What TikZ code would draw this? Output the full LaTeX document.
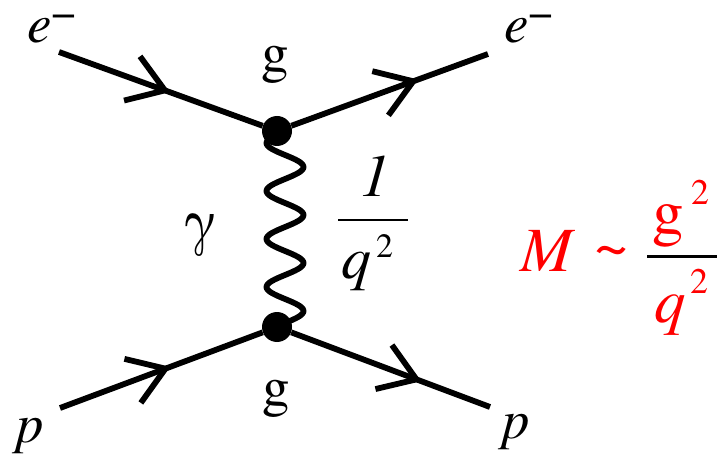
\documentclass[tikz,border=0pt]{standalone}
\usepackage{fontspec}
\IfFontExistsTF{texgyretermes-regular.otf}{%
  \setmainfont{texgyretermes}[Extension=.otf, UprightFont=*-regular, ItalicFont=*-italic, BoldFont=*-bold, BoldItalicFont=*-bolditalic]}{%
  \setmainfont{Latin Modern Roman}}
\usetikzlibrary{decorations.markings}
\begin{document}
\begin{tikzpicture}[x=1pt,y=-1pt,
  fermion/.style={line width=5.8pt, postaction={decorate},
    decoration={markings, mark=at position #1 with {\draw[line width=5.8pt, line join=miter, line cap=butt] (-35pt,23.5pt) -- (0pt,0pt) -- (-35pt,-23.5pt);}}},
  vtx/.style={circle, fill=black, minimum size=30pt, inner sep=0pt},
  lbl/.style={inner sep=0pt, font=\fontsize{55}{60}\selectfont},
  frc/.style={inner sep=0pt, font=\fontsize{60}{64}\selectfont},
  sup/.style={inner sep=0pt, font=\fontsize{34}{38}\selectfont},
  red/.style={inner sep=0pt, text=red, font=\fontsize{63}{68}\selectfont},
  redsup/.style={inner sep=0pt, text=red, font=\fontsize{36}{40}\selectfont},
  bar/.style={line width=2.7pt}
]
\useasboundingbox (0,0) rectangle (717,462);
% photon
\draw[line width=5.8pt] plot[variable=\t, domain=131:327, samples=220] ({285+18.5*cos(7.5*(\t-167))}, \t);
% vertices
\node[vtx] (v1) at (277,131) {};
\node[vtx] (v2) at (277,327) {};
% external points
\coordinate (a) at (59,52);
\coordinate (b) at (488,54);
\coordinate (c) at (60,408);
\coordinate (d) at (490,407);
% fermion lines
\draw[fermion=0.52] (a) -- (v1);
\draw[fermion=0.62] (v1) -- (b);
\draw[fermion=0.52] (c) -- (v2);
\draw[fermion=0.63] (v2) -- (d);
% labels
\node[lbl, anchor=base west] (eL) at (27,43) {\textit{e}\raisebox{15pt}{\fontsize{44}{44}\selectfont −}};
\node[lbl, anchor=base west] (eR) at (504,43) {\textit{e}\raisebox{15pt}{\fontsize{44}{44}\selectfont −}};
\node[lbl, anchor=base] (gT) at (275,72) {g};
\node[lbl, anchor=base] (gB) at (276,405) {g};
\node[lbl, anchor=base west] (pL) at (16,442) {\textit{p}};
\node[lbl, anchor=base west] (pR) at (502,438) {\textit{p}};
\node[lbl, anchor=base] (gam) at (200,242) {\fontsize{60}{64}\selectfont γ};
% 1/q^2
\node[frc, anchor=base west] (one) at (360,197) {\textit{1}};
\draw[bar] (338,220) -- (408,220);
\node[frc, anchor=base west] (q1) at (341,279) {\textit{q}};
\node[sup, anchor=base west] (two1) at (376,258) {2};
% M ~ g^2/q^2
\node[red, anchor=base west] (M) at (520,272) {\textit{M}};
\node[red, anchor=base west] (tl) at (594,272) {\raisebox{5pt}{\textasciitilde}};
\draw[bar, red, line width=3pt] (647,257) -- (717,257);
\node[red, anchor=base west] (gN) at (652,234) {g};
\node[redsup, anchor=base west] (two2) at (691,205) {2};
\node[red, anchor=base west] (qD) at (654,322) {\textit{q}};
\node[redsup, anchor=base west] (two3) at (690,293) {2};
\end{tikzpicture}
\end{document}
